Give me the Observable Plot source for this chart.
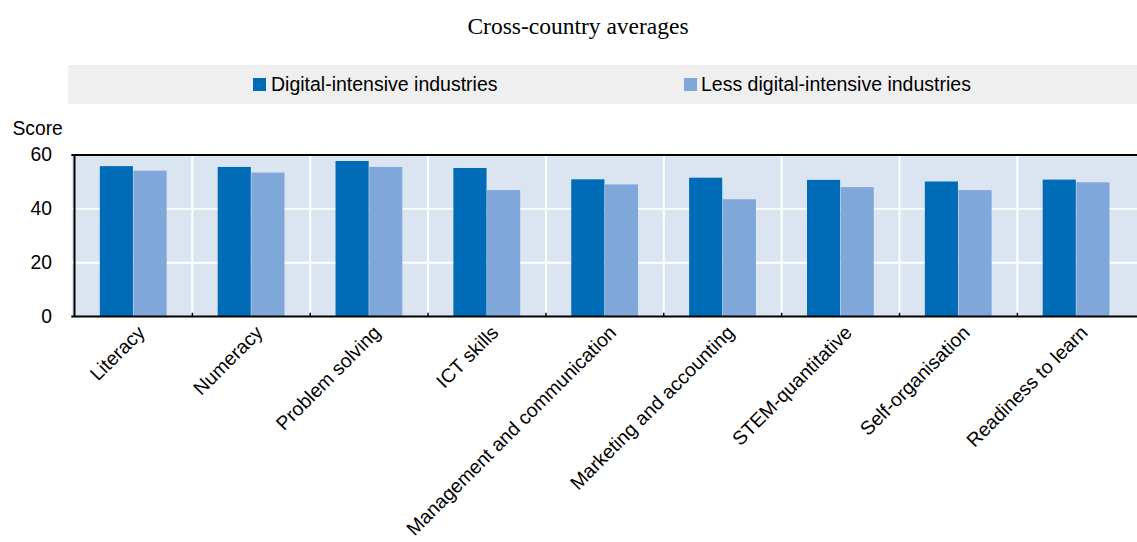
<!DOCTYPE html>
<html>
<head>
<meta charset="utf-8">
<script src="https://cdn.jsdelivr.net/npm/d3@7"></script>
<script src="https://cdn.jsdelivr.net/npm/@observablehq/plot@0.6"></script>
<style>
  html, body { margin: 0; padding: 0; background: #fff; }
  #wrap { position: relative; width: 1137px; height: 542px; overflow: hidden; font-family: "Liberation Sans", Arial, sans-serif; }
  #title { position: absolute; left: 0; width: 1156px; top: 12px; text-align: center; font-family: "Liberation Serif", "Times New Roman", serif; font-size: 23.5px; color: #000; line-height: 28px; }
  #legend { position: absolute; left: 68px; top: 65px; width: 1069px; height: 39px; background: #efefef; }
  .sw { position: absolute; top: 13px; width: 13px; height: 13px; }
  .lt { position: absolute; top: 8px; font-size: 19.5px; line-height: 23px; color: #000; white-space: nowrap; }
  #chart { position: absolute; left: 0; top: 110px; }
</style>
</head>
<body>
<div id="wrap">
  <div id="title">Cross-country averages</div>
  <div id="legend"></div>
  <div id="chart"></div>
</div>
<script>
const title = "Cross-country averages";
const seriesNames = ["Digital-intensive industries", "Less digital-intensive industries"];
const seriesColors = ["#006bb6", "#7fa7d9"];
const categories = ["Literacy", "Numeracy", "Problem solving", "ICT skills", "Management and communication", "Marketing and accounting", "STEM-quantitative", "Self-organisation", "Readiness to learn"];
const digital = [55.7, 55.4, 57.6, 55.0, 50.8, 51.4, 50.6, 50.0, 50.7];
const lessDigital = [54.0, 53.3, 55.4, 46.8, 48.9, 43.4, 47.9, 46.8, 49.7];
const yTicks = [0, 20, 40, 60];
const yLabel = "Score";

const data = categories.map((c, i) => ({category: c, digital: digital[i], less: lessDigital[i]}));

// legend
const legend = document.getElementById("legend");
const legendPos = [[185, 203], [616, 633]];
seriesNames.forEach((name, i) => {
  const sw = document.createElement("div");
  sw.className = "sw";
  sw.style.left = legendPos[i][0] + "px";
  sw.style.background = seriesColors[i];
  legend.appendChild(sw);
  const t = document.createElement("div");
  t.className = "lt";
  t.style.left = legendPos[i][1] + "px";
  t.textContent = name;
  legend.appendChild(t);
});

const W = 1148, H = 432, mL = 72, mR = 0;
const step = (W - mL - mR) / categories.length;
const barW = 34;
const bg = "#dbe5f1";
const tickLen = 1.2; // in score units (~3px)

const chart = Plot.plot({
  width: W,
  height: H,
  marginLeft: mL,
  marginRight: mR,
  marginTop: 45,
  marginBottom: 224,
  style: {fontFamily: "'Liberation Sans', Arial, sans-serif", fontSize: "19.5px", color: "#000", background: "transparent"},
  x: {domain: categories, padding: 0},
  y: {domain: [0, 60]},
  marks: [
    Plot.frame({fill: bg, stroke: null}),
    Plot.ruleY([20, 40], {stroke: "#fff", strokeWidth: 2}),
    Plot.ruleX(categories.slice(1), {x: d => d, dx: -step / 2, stroke: "#fff", strokeWidth: 2}),
    Plot.barY(data, {x: "category", y: "digital", fill: seriesColors[0], insetLeft: step / 2 - barW, insetRight: step / 2}),
    Plot.barY(data, {x: "category", y: "less", fill: seriesColors[1], insetLeft: step / 2, insetRight: step / 2 - barW}),
    Plot.ruleX(categories.slice(1), {x: d => d, dx: -step / 2, y1: 0, y2: tickLen, stroke: "#000", strokeWidth: 1.5}),
    Plot.ruleY([0, 60], {stroke: "#000", strokeWidth: 2}),
    Plot.ruleX([categories[0]], {x: d => d, dx: -step / 2, y1: 0, y2: 60, stroke: "#000", strokeWidth: 2}),
    Plot.axisY({ticks: yTicks, tickSize: 0, tickPadding: 20, label: null, fontSize: 19.5}),
    Plot.text([yLabel], {frameAnchor: "top-left", text: d => d, dx: -60, dy: -34, textAnchor: "start", fontSize: 19.5}),
    Plot.axisX({tickRotate: -45, tickSize: 0, tickPadding: 10, label: null, fontSize: 19.6, dx: 8, dy: 3})
  ]
});
document.getElementById("chart").appendChild(chart);
</script>
</body>
</html>
